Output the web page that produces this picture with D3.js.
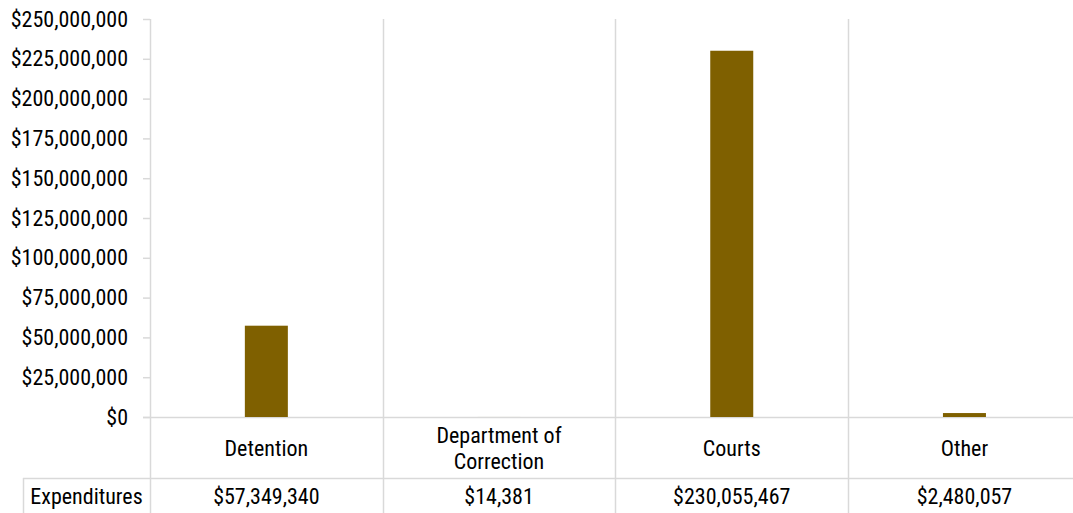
<!DOCTYPE html>
<html>
<head>
<meta charset="utf-8">
<script src="https://cdn.jsdelivr.net/npm/d3@7"></script>
<style>
  body { margin: 0; background: #fff; }
  text { font-family: "Liberation Sans Narrow", "Arial Narrow", "Roboto Condensed", sans-serif; fill: #000; }
</style>
</head>
<body>
<div id="chart"></div>
<script>
var categories = ["Detention", "Department of Correction", "Courts", "Other"];
var catLines = [["Detention"], ["Department of", "Correction"], ["Courts"], ["Other"]];
var expenditures = [57349340, 14381, 230055467, 2480057];
var yTicks = [0, 25000000, 50000000, 75000000, 100000000, 125000000, 150000000, 175000000, 200000000, 225000000, 250000000];
var seriesName = "Expenditures";

var W = 1073, H = 513;
var plotLeft = 150, plotTop = 19, base = 417;
var bandW = 232.7;
var tableLeft = 23, rowLine = 478, tableBottom = 520;
var grid = "#d9d9d9";
var fs = "22px";

var svg = d3.select("#chart").append("svg")
  .attr("width", W).attr("height", H);

var x = d3.scaleBand()
  .domain(categories)
  .range([plotLeft, plotLeft + bandW * categories.length])
  .paddingInner(0).paddingOuter(0);

var y = d3.scaleLinear()
  .domain([0, 250000000])
  .range([base, plotTop]);

var fmt = d3.format("$,.0f");

// vertical gridlines at category boundaries (extend through table)
var bounds = categories.map(function(c){ return x(c); });
bounds.push(x(categories[categories.length-1]) + x.bandwidth());
svg.selectAll(".vgrid")
  .data(bounds)
  .enter().append("line")
  .attr("class", "vgrid")
  .attr("x1", function(d){ return Math.round(d) + 0.5; })
  .attr("x2", function(d){ return Math.round(d) + 0.5; })
  .attr("y1", plotTop)
  .attr("y2", tableBottom)
  .attr("stroke", grid)
  .attr("stroke-width", 1.5);

// y axis
var yAxis = d3.axisLeft(y)
  .tickValues(yTicks)
  .tickFormat(fmt)
  .tickSize(7)
  .tickPadding(15);

var ga = svg.append("g")
  .attr("transform", "translate(" + plotLeft + ",0)")
  .call(yAxis);
ga.select(".domain").remove();
ga.selectAll(".tick line").attr("stroke", grid).attr("stroke-width", 1.5);
ga.selectAll(".tick text")
  .style("font-size", fs)
  .attr("fill", "#000");

// baseline
svg.append("line")
  .attr("x1", plotLeft - 7).attr("x2", W)
  .attr("y1", base + 0.5).attr("y2", base + 0.5)
  .attr("stroke", grid).attr("stroke-width", 1.5);

// bars
svg.selectAll(".bar")
  .data(expenditures)
  .enter().append("rect")
  .attr("class", "bar")
  .attr("x", function(d, i){ return x(categories[i]) + x.bandwidth()/2 - 21.5; })
  .attr("width", 43)
  .attr("y", function(d){ return y(d); })
  .attr("height", function(d){ return base - y(d); })
  .attr("fill", "#7f6000");

// category labels
var lab = svg.selectAll(".catlab")
  .data(catLines)
  .enter().append("text")
  .attr("class", "catlab")
  .attr("text-anchor", "middle")
  .style("font-size", fs);
lab.each(function(lines, i){
  var t = d3.select(this);
  var cx = x(categories[i]) + x.bandwidth()/2;
  var mid = (base + rowLine) / 2 + 8;
  lines.forEach(function(s, j){
    t.append("tspan")
      .attr("x", cx)
      .attr("y", mid + (j - (lines.length-1)/2) * 26)
      .text(s);
  });
});

// table lines
svg.append("line")
  .attr("x1", tableLeft).attr("x2", W)
  .attr("y1", rowLine + 0.5).attr("y2", rowLine + 0.5)
  .attr("stroke", grid).attr("stroke-width", 1.5);
svg.append("line")
  .attr("x1", tableLeft + 0.5).attr("x2", tableLeft + 0.5)
  .attr("y1", rowLine).attr("y2", tableBottom)
  .attr("stroke", grid).attr("stroke-width", 1.5);

// table values
var rowY = (rowLine + H) / 2 + 8;
svg.append("text")
  .attr("x", (tableLeft + plotLeft) / 2)
  .attr("y", rowY)
  .attr("text-anchor", "middle")
  .style("font-size", fs)
  .text(seriesName);

svg.selectAll(".val")
  .data(expenditures)
  .enter().append("text")
  .attr("class", "val")
  .attr("x", function(d, i){ return x(categories[i]) + x.bandwidth()/2; })
  .attr("y", rowY)
  .attr("text-anchor", "middle")
  .style("font-size", fs)
  .text(function(d){ return fmt(d); });
</script>
</body>
</html>
